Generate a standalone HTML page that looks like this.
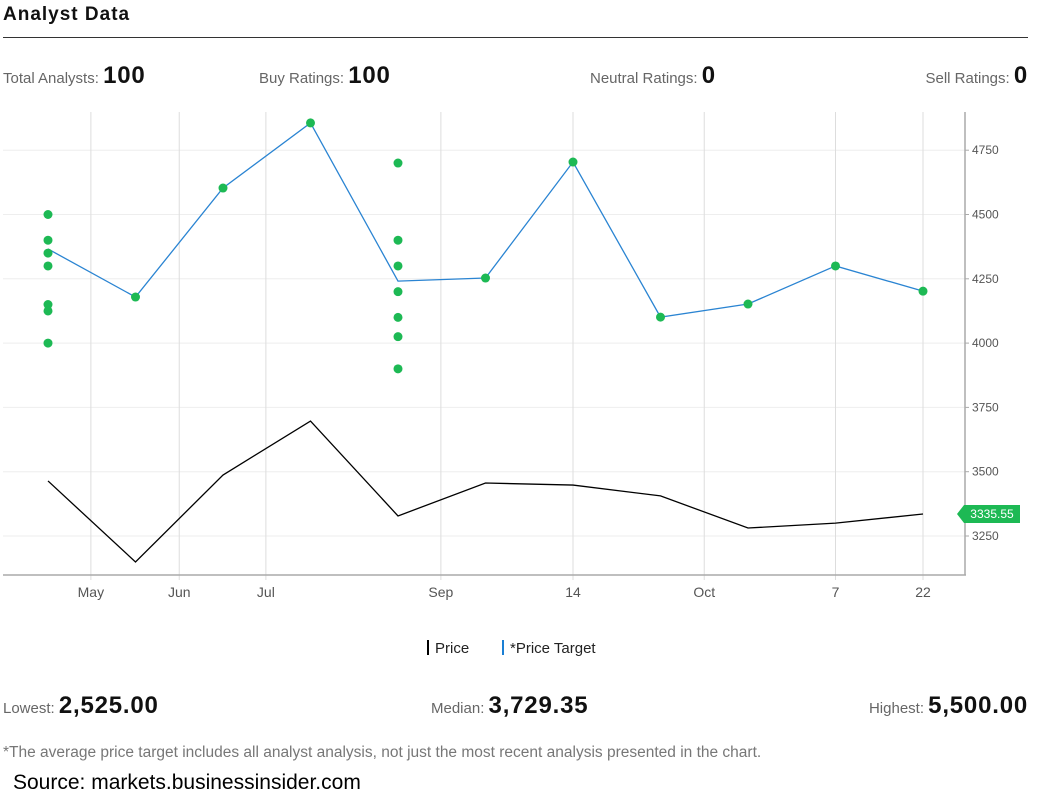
<!DOCTYPE html>
<html><head><meta charset="utf-8"><style>
body{margin:0;width:1051px;height:804px;background:#fff;font-family:"Liberation Sans",sans-serif;position:relative;overflow:hidden}
.a{position:absolute;white-space:nowrap}
.lbl{color:#666;font-size:15px}
.big{color:#111;font-size:24px;font-weight:bold;letter-spacing:0.8px}
</style></head><body>
<div class="a" style="left:3px;top:4px;font-size:19px;font-weight:bold;color:#111;letter-spacing:1px">Analyst Data</div>
<div class="a" style="left:3px;top:37px;width:1025px;height:1px;background:#333"></div>
<div class="a" style="left:3px;top:62px"><span class="lbl">Total Analysts: </span><span class="big">100</span></div>
<div class="a" style="left:259px;top:62px"><span class="lbl">Buy Ratings: </span><span class="big">100</span></div>
<div class="a" style="left:590px;top:62px"><span class="lbl">Neutral Ratings: </span><span class="big">0</span></div>
<div class="a" style="right:23px;top:62px"><span class="lbl">Sell Ratings: </span><span class="big">0</span></div>
<svg class="a" style="left:0;top:0" width="1051" height="630" id="chart"></svg>
<div class="a" style="left:427px;top:640px;font-size:15px;color:#222"><span style="display:inline-block;width:2px;height:15px;background:#000;vertical-align:-2px;margin-right:6px"></span>Price</div>
<div class="a" style="left:502px;top:640px;font-size:15px;color:#222"><span style="display:inline-block;width:2px;height:15px;background:#1a7fd4;vertical-align:-2px;margin-right:6px"></span>*Price Target</div>
<div class="a" style="left:3px;top:692px"><span class="lbl">Lowest: </span><span class="big">2,525.00</span></div>
<div class="a" style="left:431px;top:692px"><span class="lbl">Median: </span><span class="big">3,729.35</span></div>
<div class="a" style="right:23px;top:692px"><span class="lbl">Highest: </span><span class="big">5,500.00</span></div>
<div class="a" style="left:3px;top:744px;font-size:15.5px;color:#777">*The average price target includes all analyst analysis, not just the most recent analysis presented in the chart.</div>
<div class="a" style="left:13px;top:771px;font-size:21px;color:#000">Source: markets.businessinsider.com</div>
<script>
const categories=[0,1,2,3,4,5,6,7,8,9,10];
const targetLine=[4366,4179,4603,4856,4241,4253,4704,4101,4152,4300,4202];
const price=[3464,3149,3487,3697,3328,3456,3448,3406,3281,3300,3335.55];
const extraDots=[[0,4500],[0,4400],[0,4350],[0,4300],[0,4150],[0,4125],[0,4000],[4,4700],[4,4400],[4,4300],[4,4200],[4,4100],[4,4025],[4,3900]];
const yTicks=[3250,3500,3750,4000,4250,4500,4750];
const xTickLabels=["May","Jun","Jul","Sep","14","Oct","7","22"];
const xTickIdx=[0.49,1.5,2.49,4.49,6,7.5,9,10];
const X=i=>48+87.5*i;
const Y=v=>536-(v-3250)*0.2572;
const svg=document.getElementById('chart');const NS='http://www.w3.org/2000/svg';
function mk(t,a,n){const e=document.createElementNS(NS,t);for(const k in a)e.setAttribute(k,a[k]);
svg.appendChild(e);return e;}
yTicks.forEach(v=>{mk('line',{x1:3,x2:965,y1:Y(v),y2:Y(v),stroke:'#eee'},'y-gridline');
const t=mk('text',{x:972,y:Y(v)+4,'font-size':12,fill:'#555'},'y-tick-label');t.textContent=v;
mk('line',{x1:965,x2:969,y1:Y(v),y2:Y(v),stroke:'#aaa'},'y-tick');});
xTickIdx.forEach((d,i)=>{mk('line',{x1:X(d),x2:X(d),y1:112,y2:580,stroke:'#ddd'},'x-gridline');
const t=mk('text',{x:X(d),y:597,'font-size':14,fill:'#555','text-anchor':'middle'},'x-tick-label');t.textContent=xTickLabels[i];});
mk('line',{x1:3,x2:966,y1:575,y2:575,stroke:'#aaa','stroke-width':1.5},'x-axis');
mk('line',{x1:965,x2:965,y1:112,y2:575,stroke:'#aaa','stroke-width':1.5},'y-axis');
mk('polyline',{points:categories.map(i=>X(i)+','+Y(targetLine[i])).join(' '),fill:'none',stroke:'#2a84d2','stroke-width':1.3},'price-target-line');
mk('polyline',{points:categories.map(i=>X(i)+','+Y(price[i])).join(' '),fill:'none',stroke:'#000','stroke-width':1.3},'price-line');
categories.forEach(i=>{if(i!==0&&i!==4)mk('circle',{cx:X(i),cy:Y(targetLine[i]),r:4.5,fill:'#1db954'},'target-dot');});
extraDots.forEach(d=>mk('circle',{cx:X(d[0]),cy:Y(d[1]),r:4.5,fill:'#1db954'},'analyst-dot'));
const ly=Y(price[price.length-1]);
mk('path',{d:`M957 ${ly} L964 ${ly-9} L1020 ${ly-9} L1020 ${ly+9} L964 ${ly+9} Z`,fill:'#1db954'},'last-price-tag');
const lt=mk('text',{x:992,y:ly+4,'font-size':12,fill:'#fff','text-anchor':'middle'},'last-price-label');lt.textContent=price[price.length-1].toFixed(2);
</script>
</body></html>
